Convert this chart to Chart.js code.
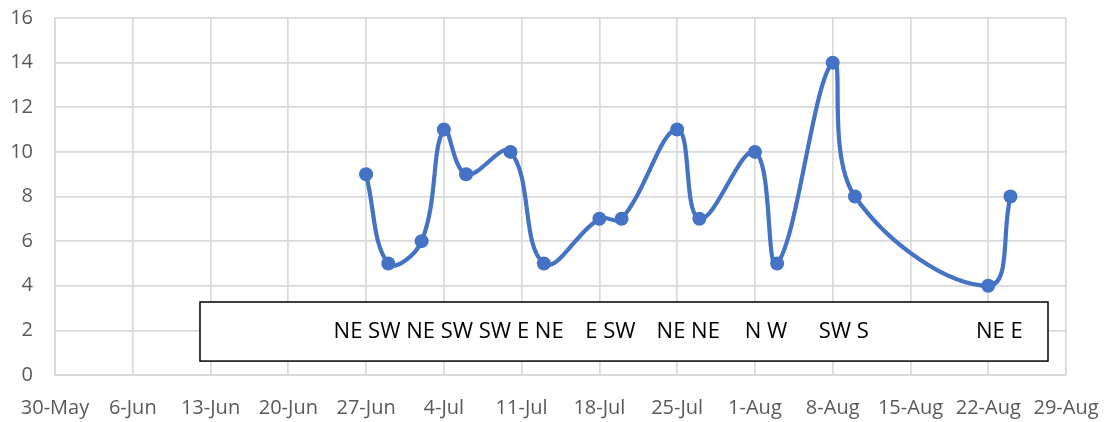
<!DOCTYPE html>
<html>
<head>
<meta charset="utf-8">
<script src="https://cdn.jsdelivr.net/npm/chart.js@4"></script>
<style>
  body { margin: 0; background: #fff; }
</style>
</head>
<body>
<canvas id="chart" width="1108" height="422"></canvas>
<script>
const tickLabels = ['30-May', '6-Jun', '13-Jun', '20-Jun', '27-Jun', '4-Jul', '11-Jul',
    '18-Jul', '25-Jul', '1-Aug', '8-Aug', '15-Aug', '22-Aug', '29-Aug'];
const dates = ['27-Jun', '29-Jun', '2-Jul', '4-Jul', '6-Jul', '10-Jul', '13-Jul', '18-Jul', '20-Jul',
    '25-Jul', '27-Jul', '1-Aug', '3-Aug', '8-Aug', '10-Aug', '22-Aug', '24-Aug'];
const values = [9, 5, 6, 11, 9, 10, 5, 7, 7, 11, 7, 10, 5, 14, 8, 4, 8];
const directions = ['NE', 'SW', 'NE', 'SW', 'SW', 'E', 'NE', 'E', 'SW', 'NE', 'NE', 'N', 'W', 'SW', 'S', 'NE', 'E'];

const months = { May: 4, Jun: 5, Jul: 6, Aug: 7 };
const toDay = (s) => {
    const [d, m] = s.split('-');
    return (Date.UTC(2020, months[m], +d) - Date.UTC(2020, 4, 30)) / 86400000;
};

const lineColor = '#4472C4';
const gridColor = '#d9d9d9';
const tickColor = '#595959';

// text box with the wind directions, labels packed so they don't overlap
const directionBox = {
    id: 'directionBox',
    afterDatasetsDraw(chart) {
        const { ctx, chartArea: a, scales: { x } } = chart;
        const w = a.right - a.left, h = a.bottom - a.top;
        const bx = a.left + w * 0.1434, by = a.top + h * 0.7955;
        const bw = w * 0.8388, bh = h * 0.1655;
        ctx.save();
        ctx.fillStyle = '#fff';
        ctx.fillRect(bx, by, bw, bh);
        ctx.strokeStyle = '#000';
        ctx.lineWidth = 1.5;
        ctx.strokeRect(bx, by, bw, bh);

        ctx.font = '22px "Open Sans"';
        ctx.fillStyle = '#000';
        ctx.textBaseline = 'middle';
        const gap = ctx.measureText(' ').width;
        let groups = directions.map((t, i) => ({
            items: [{ t, w: ctx.measureText(t).width }],
            want: [x.getPixelForValue(toDay(dates[i]))]
        }));
        const span = (g) => {
            const width = g.items.reduce((s, it) => s + it.w, 0) + gap * (g.items.length - 1);
            const c = g.want.reduce((s, v) => s + v, 0) / g.want.length;
            return [c - width / 2, c + width / 2];
        };
        let merged = true;
        while (merged) {
            merged = false;
            for (let i = 0; i < groups.length - 1; i++) {
                if (span(groups[i])[1] + gap > span(groups[i + 1])[0]) {
                    groups[i] = {
                        items: groups[i].items.concat(groups[i + 1].items),
                        want: groups[i].want.concat(groups[i + 1].want)
                    };
                    groups.splice(i + 1, 1);
                    merged = true;
                    break;
                }
            }
        }
        const ty = by + bh / 2;
        groups.forEach(g => {
            let cx = span(g)[0];
            g.items.forEach(it => {
                ctx.fillText(it.t, cx, ty);
                cx += it.w + gap;
            });
        });
        ctx.restore();
    }
};

const noPad = (s) => { s.paddingTop = 0; s.paddingBottom = 0; s.paddingLeft = 0; s.paddingRight = 0; };

new Chart(document.getElementById('chart'), {
    type: 'line',
    data: {
        datasets: [{
            data: dates.map((d, i) => ({ x: toDay(d), y: values[i] })),
            borderColor: lineColor,
            backgroundColor: lineColor,
            borderWidth: 4.2,
            pointRadius: 7,
            pointBorderWidth: 0,
            tension: 0.4
        }]
    },
    options: {
        responsive: false,
        animation: false,
        layout: { padding: { left: 0, right: 42, top: 18, bottom: 0 } },
        plugins: { legend: { display: false }, tooltip: { enabled: false } },
        scales: {
            x: {
                type: 'linear',
                min: 0,
                max: 91,
                afterFit: (s) => { s.height = 47; noPad(s); },
                afterBuildTicks: (s) => { s.ticks = tickLabels.map((_, i) => ({ value: i * 7 })); },
                grid: { color: gridColor, lineWidth: 1.7, drawTicks: false },
                border: { color: gridColor, width: 1.7 },
                ticks: {
                    color: tickColor,
                    font: { family: 'Open Sans', size: 20 },
                    padding: 21,
                    maxRotation: 0,
                    autoSkip: false,
                    callback: (v) => tickLabels[Math.round(v / 7)]
                }
            },
            y: {
                min: 0,
                max: 16,
                afterFit: (s) => { s.width = 55; noPad(s); },
                grid: { color: gridColor, lineWidth: 1.7, drawTicks: false },
                border: { color: gridColor, width: 1.7 },
                ticks: {
                    stepSize: 2,
                    color: tickColor,
                    font: { family: 'Open Sans', size: 20 },
                    padding: 22
                }
            }
        }
    },
    plugins: [directionBox]
});
</script>
</body>
</html>
